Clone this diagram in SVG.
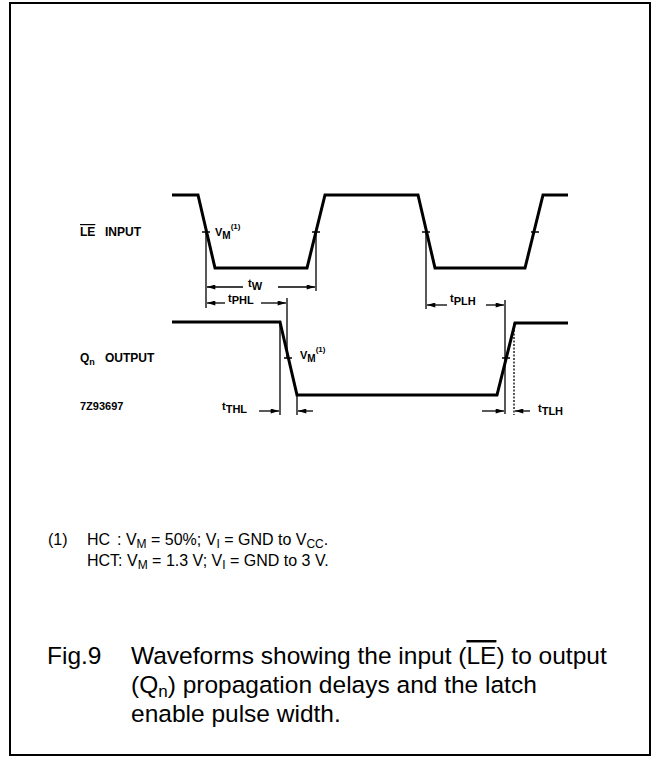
<svg xmlns="http://www.w3.org/2000/svg" width="652" height="757" viewBox="0 0 652 757">
<defs>
<marker id="ah" viewBox="0 0 10 6" refX="10" refY="3" markerWidth="9" markerHeight="5" markerUnits="userSpaceOnUse" orient="auto"><path d="M0,0 L10,3 L0,6 z" fill="#000"/></marker>
</defs>
<style>
.wave{fill:none;stroke:#000;stroke-width:3}
.dim{fill:none;stroke:#000;stroke-width:1.3}
.dot{fill:none;stroke:#000;stroke-width:1.3;stroke-dasharray:2 1.5}
.arr{fill:none;stroke:#000;stroke-width:1.3;marker-end:url(#ah)}
.lbl{font-family:"Liberation Sans",Arial,sans-serif;font-weight:bold;font-size:12px}
.sm{font-family:"Liberation Sans",Arial,sans-serif;font-weight:bold;font-size:11px}
.note{font-family:"Liberation Sans",Arial,sans-serif;font-size:16px}
.cap{font-family:"Liberation Sans",Arial,sans-serif;font-size:24.5px}
</style>
<rect x="10" y="3" width="640" height="752" fill="#fff" stroke="#000" stroke-width="2"/>
<g id="le-input">
<path class="wave" d="M172,195 L198,195 L215,268 L307,268 L325,195 L418,195 L435,268 L525,268 L543,195 L568,195"/>
<path class="dim" d="M202,232 H210 M312,232 H320 M422,232 H430 M531,232 H539"/>
<text class="lbl" x="80" y="236"><tspan text-decoration="overline">LE</tspan><tspan x="105">INPUT</tspan></text>
<text class="sm" x="215" y="236">V<tspan font-size="10" dy="3">M</tspan><tspan font-size="8" dy="-10">(1)</tspan></text>
</g>
<g id="qn-output">
<path class="wave" d="M172,322 L280,322 L297,395 L497,395 L515,323 L568,323"/>
<path class="dim" d="M284,358 H292 M502,358 H510"/>
<text class="lbl" x="80" y="362">Q<tspan font-size="9" dy="3">n</tspan><tspan x="105" dy="-3">OUTPUT</tspan></text>
<text class="sm" x="300" y="359">V<tspan font-size="10" dy="3">M</tspan><tspan font-size="8" dy="-10">(1)</tspan></text>
<text class="sm" x="80" y="410" font-size="10">7Z93697</text>
</g>
<g id="connectors">
<path class="dim" d="M206,232 V308 M316,232 V291 M426,232 V309 M287,298 V358 M505,300 V414 M280,322 V415 M297,395 V415"/>
<path class="dot" d="M514,323 V415"/>
<path class="arr" d="M243,287 H207"/>
<path class="arr" d="M278,287 H315"/>
<path class="arr" d="M225,303 H207"/>
<path class="arr" d="M261,303 H286"/>
<path class="arr" d="M447,305 H427"/>
<path class="arr" d="M486,305 H504"/>
<path class="arr" d="M259,411 H279"/>
<path class="arr" d="M313,411 H298"/>
<path class="arr" d="M482,411 H504"/>
<path class="arr" d="M530,411 H515"/>
</g>
<g id="timing-labels">
<text class="sm" x="248" y="287" font-size="9">t<tspan font-size="11" dy="3">W</tspan></text>
<text class="sm" x="228" y="302" font-size="9">t<tspan font-size="11" dy="2">PHL</tspan></text>
<text class="sm" x="450" y="302" font-size="9">t<tspan font-size="11" dy="3">PLH</tspan></text>
<text class="sm" x="222" y="410" font-size="9">t<tspan font-size="11" dy="3">THL</tspan></text>
<text class="sm" x="538" y="412" font-size="9">t<tspan font-size="11" dy="3">TLH</tspan></text>
</g>
<g id="footnote">
<text class="note" x="48" y="545">(1)<tspan x="87">HC</tspan><tspan x="117">: V</tspan><tspan font-size="12" dy="3">M</tspan><tspan dy="-3"> = 50%; V</tspan><tspan font-size="12" dy="3">I</tspan><tspan dy="-3"> = GND to V</tspan><tspan font-size="12" dy="3">CC</tspan><tspan dy="-3">.</tspan></text>
<text class="note" x="87" y="566">HCT: V<tspan font-size="12" dy="3">M</tspan><tspan dy="-3"> = 1.3 V; V</tspan><tspan font-size="12" dy="3">I</tspan><tspan dy="-3"> = GND to 3 V.</tspan></text>
</g>
<g id="caption">
<text class="cap" x="47" y="664">Fig.9</text>
<text class="cap" x="131" y="664">Waveforms showing the input (<tspan text-decoration="overline">LE</tspan>) to output</text>
<text class="cap" x="131" y="693">(Q<tspan font-size="17" dy="4">n</tspan><tspan dy="-4">) propagation delays and the latch</tspan></text>
<text class="cap" x="131" y="722">enable pulse width.</text>
</g>
</svg>
